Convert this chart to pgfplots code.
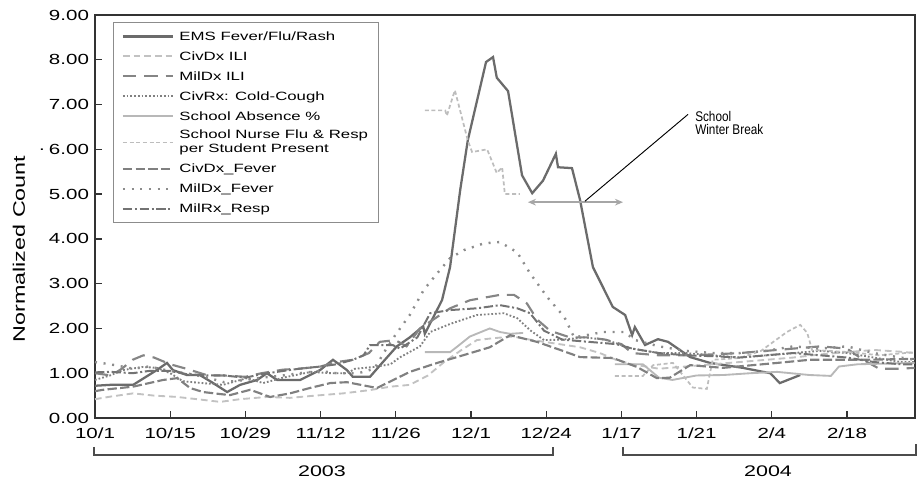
\documentclass[border=0pt]{standalone}
\usepackage{fontspec}
\setmainfont{Liberation Sans}[FakeStretch=1.4]
\newfontfamily\notefont{Liberation Sans}[FakeStretch=0.84]
\usepackage{pgfplots}
\pgfplotsset{compat=1.18}
\usetikzlibrary{arrows.meta}

% line styles of the nine surveillance series
\pgfplotsset{
  ems/.style={black!58, line width=1.7pt},
  civdxili/.style={black!24, line width=1.4pt, dash pattern=on 5pt off 3pt},
  mildxili/.style={black!48, line width=1.6pt, dash pattern=on 10pt off 6pt},
  civrx/.style={black!50, line width=1.4pt, dash pattern=on 1.3pt off 1.5pt},
  absence/.style={black!28, line width=1.4pt},
  nurse/.style={black!26, line width=1.3pt, dash pattern=on 3pt off 2pt},
  civdxfever/.style={black!50, line width=1.6pt, dash pattern=on 7pt off 2.5pt},
  mildxfever/.style={black!45, line width=1.8pt, dash pattern=on 1.5pt off 5pt},
  milrx/.style={black!55, line width=1.5pt, dash pattern=on 7pt off 2pt on 1.5pt off 2pt},
}

\begin{document}
\begin{tikzpicture}[x=0.75pt, y=0.75pt]
\path[use as bounding box] (0,0) rectangle (918,482);

\begin{axis}[
  at={(71.25pt,48pt)}, anchor=south west,
  scale only axis, width=615pt, height=302.25pt,
  xmin=0, xmax=152.66, ymin=0, ymax=9,
  xtick={0,14,...,140},
  xticklabels={10/1,10/15,10/29,11/12,11/26,12/1,12/24,1/17,1/21,2/4,2/18},
  ytick={0,1,...,9},
  /pgf/number format/assume math mode=true,
  yticklabel style={/pgf/number format/.cd, fixed, fixed zerofill, precision=2, /tikz/.cd,
    font=\fontsize{11}{13}\selectfont, xshift=-1pt},
  xticklabel style={font=\fontsize{11}{13}\selectfont, yshift=-4pt},
  xtick pos=bottom, ytick pos=left, tick align=inside,
  major tick length=5pt,
  axis line style={black!80, line width=1pt},
  every tick/.style={black!80, line width=1pt},
  clip=false,
  legend cell align=left,
  legend image code/.code={\draw[#1] (0pt,0pt) -- (37.5pt,0pt);},
  legend style={at={(0.022,0.983)}, anchor=north west,
    draw=black!45, line width=1pt,
    font=\fontsize{9}{10.5}\selectfont,
    cells={align=left},
    inner xsep=6pt, inner ysep=4pt, row sep=2.1pt, column sep=2pt},
]

% EMS Fever/Flu/Rash
\addplot[ems] coordinates {
(0,0.72) (2.8,0.74) (7.1,0.74) (11.5,1.07) (13.4,1.23) (14.5,1.07) (17.1,0.96)
(19.5,0.96) (22.0,0.78) (24.6,0.58) (27.0,0.74) (30.2,0.85) (32.0,1.0) (33.9,0.85)
(38.2,0.85) (41.9,1.07) (44.3,1.3) (46.9,1.07) (48.0,0.92) (51.2,0.92) (53.6,1.25)
(56.2,1.6) (58.6,1.8) (61.1,2.05) (61.4,1.88) (64.6,2.63) (66.1,3.37) (68.0,5.1)
(69.4,6.2) (72.8,7.95) (74.1,8.06) (74.8,7.6) (76.9,7.3) (79.5,5.42) (81.4,5.02)
(83.4,5.3) (85.8,5.9) (86.2,5.6) (88.8,5.58) (90.3,4.87) (92.7,3.37) (96.4,2.48)
(98.7,2.3) (100.0,1.85) (100.5,2.03) (102.4,1.63) (104.8,1.76) (106.7,1.7)
(110.8,1.36) (114.5,1.23) (120.6,1.12) (125.7,1.0) (127.5,0.78) (131.3,0.96)};
\addlegendentry{EMS Fever/Flu/Rash\strut}

% CivDx ILI
\addplot[civdxili] coordinates {
(0,0.42) (3,0.48) (7.1,0.55) (11,0.5) (15.3,0.47) (19,0.42) (23.3,0.36) (27,0.42)
(32,0.47) (36.3,0.45) (41,0.5) (46.2,0.55) (51,0.62) (55,0.7) (58.6,0.74) (62,0.95)
(65,1.25) (68,1.5) (71.1,1.74) (74,1.78) (77.8,1.82) (81,1.75) (85.3,1.67) (90.3,1.58)
(94,1.45) (97,1.3) (100,1.2) (105,1.1) (110,1.15) (115,1.2) (120,1.25) (125,1.3)
(130,1.35) (135,1.42) (140,1.47) (145,1.52) (150,1.48) (152.6,1.45)};
\addlegendentry{CivDx ILI\strut}

% MilDx ILI
\addplot[mildxili] coordinates {
(0,1.0) (3,0.95) (5,1.1) (7,1.3) (9,1.4) (11,1.35) (14,1.2) (17,1.1) (21,0.95)
(24,0.95) (28,0.92) (31,1.0) (35,1.08) (38,1.1) (42,1.15) (45,1.25) (48,1.3)
(51,1.45) (53,1.7) (55.9,1.74) (58,1.6) (60.5,2.0) (63,2.2) (66.1,2.45) (69.8,2.63)
(75.4,2.75) (78,2.75) (80.4,2.56) (82.3,2.2) (84.7,1.95) (88.4,1.8) (92,1.8)
(95,1.75) (98,1.65) (100,1.45) (105,1.4) (110,1.4) (115,1.42) (120,1.45) (125,1.5)
(130,1.55) (135,1.6) (140,1.55) (143,1.3) (146,1.1) (150,1.1) (152.6,1.12)};
\addlegendentry{MilDx ILI\strut}

% CivRx: Cold-Cough
\addplot[civrx] coordinates {
(0,0.85) (2.8,0.95) (5.2,1.07) (8.9,1.14) (11.5,1.12) (14,1.0) (16.4,0.82) (20,0.78)
(23.8,0.74) (28.3,0.89) (31.3,0.78) (35,0.9) (40.2,1.03) (44,1.0) (47,1.0) (48.4,1.1)
(52,1.14) (55,1.2) (56.7,1.35) (60.5,1.6) (62.4,1.92) (66.1,2.1) (71.1,2.3)
(76.1,2.34) (78.6,2.23) (81,1.96) (83.6,1.74) (87,1.75) (91,1.8) (95,1.75) (100,1.55)
(105,1.45) (110,1.45) (115,1.4) (120,1.35) (125,1.4) (130,1.45) (135,1.5) (140,1.45)
(145,1.35) (150,1.25) (152.6,1.25)};
\addlegendentry{CivRx: Cold-Cough\strut}

% School Absence %
\addplot[absence, unbounded coords=jump] coordinates {
(61.4,1.47) (66.1,1.47) (67.5,1.6) (69.8,1.82) (73.5,2.0) (75.4,1.92) (77.3,1.88)
(79.7,1.9) (80,nan) (96.8,1.2) (102,1.2) (105,0.9) (107.5,0.85) (112,0.95) (117,0.96)
(122,1.0) (127,1.03) (133,0.96) (137,0.94) (138.5,1.15) (142,1.2) (152.6,1.23)};
\addlegendentry{School Absence \%\strut}

% School Nurse Flu & Resp per Student Present
\addplot[nurse, unbounded coords=jump] coordinates {
(61.4,6.87) (65.2,6.87) (65.5,6.75) (67.0,7.32) (69.4,6.2) (70.2,5.94) (73.0,6.0)
(74.8,5.47) (75.8,5.6) (76.3,5.0) (79.1,5.0) (80,nan) (96.8,0.94) (102.0,0.94)
(103.9,1.18) (107.6,1.23) (111.3,0.68) (113.9,0.65) (115,1.3) (120,1.34) (124,1.5)
(128.8,1.92) (131.3,2.08) (132.6,1.9) (133.5,1.52) (140.6,1.47) (146,1.4) (152.6,1.47)};
\addlegendentry{School Nurse Flu \& Resp\\per Student Present\strut}

% CivDx_Fever
\addplot[civdxfever] coordinates {
(0,0.6) (1.5,0.63) (7.1,0.7) (12.7,0.85) (15.3,0.89) (17.7,0.67) (20.1,0.58)
(25.1,0.51) (28.9,0.63) (32.6,0.47) (36.3,0.55) (40.0,0.67) (43.8,0.78) (46.9,0.8)
(52.5,0.67) (58.6,1.03) (63.7,1.23) (68.5,1.4) (73.5,1.58) (77.3,1.85) (82.3,1.7)
(86.6,1.52) (90.3,1.36) (96.4,1.34) (100.9,1.14) (104.6,0.89) (107.0,0.9)
(110.8,1.18) (116.9,1.12) (127.0,1.23) (133.1,1.3) (143.0,1.3) (152.6,1.32)};
\addlegendentry{CivDx\_Fever\strut}

% MilDx_Fever
\addplot[mildxfever] coordinates {
(0,1.25) (2.8,1.2) (5,1.15) (7.1,1.1) (10,1.15) (14,1.05) (17,1.0) (21,0.9) (24,0.8)
(28,0.85) (31,0.9) (35,0.95) (38,1.0) (42,1.05) (45,1.0) (49,1.0) (52,1.1) (54,1.5)
(55.9,1.85) (58.6,2.3) (61.2,2.86) (63.7,3.23) (66.1,3.57) (68.7,3.75) (72.4,3.9)
(75.4,3.93) (78.6,3.7) (81,3.23) (84.2,2.7) (87.4,2.25) (89.2,1.8) (91.5,1.85)
(94.6,1.92) (98.5,1.92) (100.6,1.74) (105,1.6) (110,1.5) (115,1.45) (120,1.45)
(125,1.5) (130,1.6) (135,1.55) (140,1.6) (145,1.45) (150,1.35) (152.6,1.3)};
\addlegendentry{MilDx\_Fever\strut}

% MilRx_Resp
\addplot[milrx] coordinates {
(0,1.02) (3,1.03) (7,1.0) (10,1.05) (14,1.05) (17,0.98) (21,0.95) (24,0.95) (28,0.9)
(31,0.98) (35,1.05) (38,1.1) (42,1.15) (45,1.2) (48,1.3) (50,1.4) (51.2,1.63)
(55.4,1.63) (56.8,1.55) (60,1.8) (62.4,2.34) (66.1,2.41) (71.1,2.45) (75.4,2.52)
(78.6,2.45) (81,2.34) (83.6,1.95) (87,1.75) (92,1.7) (97,1.65) (100,1.55) (105,1.45)
(110,1.4) (115,1.38) (120,1.35) (125,1.4) (130,1.45) (135,1.4) (140,1.35) (145,1.25)
(150,1.2) (152.6,1.2)};
\addlegendentry{MilRx\_Resp\strut}

% school winter break
\draw[black!35, line width=1.5pt, {Stealth[length=6pt,width=5pt]}-{Stealth[length=6pt,width=5pt]}]
  (axis cs:80.6,4.82) -- (axis cs:98.3,4.82);
\draw[black, line width=0.7pt] (axis cs:91.2,4.84) -- (axis cs:110.4,6.78);
\node[anchor=north west, align=left, inner sep=0pt, font=\notefont\fontsize{10.5}{9.8}\selectfont]
  at (axis cs:111.7,6.85) {School\\Winter Break};
\end{axis}

% axis title and year brackets
\node[rotate=90, font=\fontsize{12.5}{14}\selectfont] at (19,233) {Normalized Count};
\node[font=\fontsize{11}{13}\selectfont] at (42,332) {.};
\draw[black!70, line width=0.9pt] (94,35) -- (94,27) -- (553,27) -- (553,35);
\draw[black!70, line width=0.9pt] (623,35) -- (623,27) -- (916,27) -- (916,38);
\node[font=\fontsize{11.5}{13}\selectfont] at (322,11) {2003};
\node[font=\fontsize{11.5}{13}\selectfont] at (768,11) {2004};
\end{tikzpicture}
\end{document}
